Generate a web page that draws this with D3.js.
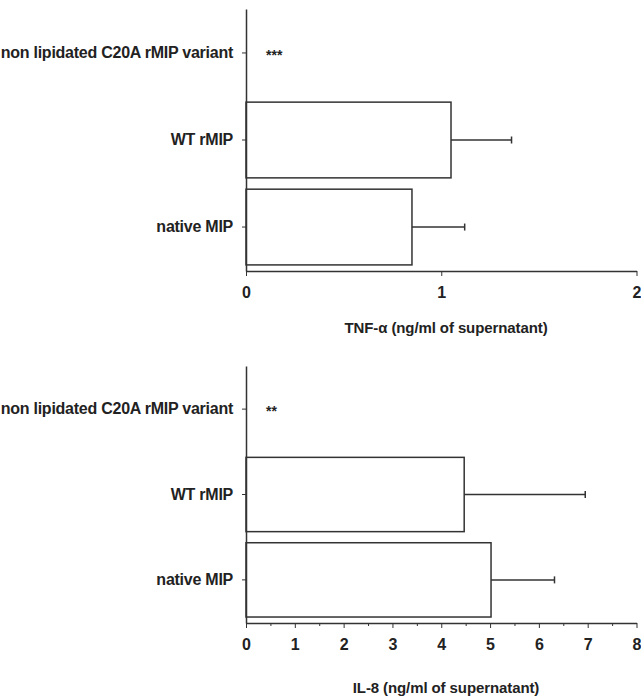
<!DOCTYPE html>
<html>
<head>
<meta charset="utf-8">
<script src="https://cdn.jsdelivr.net/npm/d3@7"></script>
<style>
  body { margin: 0; background: #fff; }
  text { font-family: "Liberation Sans", Arial, sans-serif; fill: #222; }
</style>
</head>
<body>
<div id="chart"></div>
<script>
// groups, bottom to top
var categories = ["native MIP", "WT rMIP", "non lipidated C20A rMIP variant"];

// TNF-alpha panel
var tnfMeans = [0.85, 1.05, 0];
var tnfSD = [0.27, 0.31, 0];
var tnfStars = ["", "", "***"];
var tnfTicks = [0, 1, 2];

// IL-8 panel
var il8Means = [5.02, 4.47, 0];
var il8SD = [1.30, 2.48, 0];
var il8Stars = ["", "", "**"];
var il8Ticks = [0, 1, 2, 3, 4, 5, 6, 7, 8];
var il8Minor = [0.5, 1.5, 2.5, 3.5, 4.5, 5.5, 6.5, 7.5];

var W = 641, H = 699;
var ink = "#333";

var svg = d3.select("#chart").append("svg")
    .attr("width", W)
    .attr("height", H);

function panel(opt) {
    var x = d3.scaleLinear().domain(opt.domain).range([246, 636.5]);
    var y = d3.scaleBand().domain(categories)
        .range([opt.bottom, opt.top])
        .paddingInner(0.13)
        .paddingOuter(0.07);

    var g = svg.append("g");

    var rows = categories.map(function (c, i) {
        return { cat: c, mean: opt.means[i], sd: opt.sd[i], star: opt.stars[i] };
    });

    // bars
    g.selectAll(".bar")
        .data(rows.filter(function (d) { return d.mean > 0; }))
        .enter().append("rect")
        .attr("class", "bar")
        .attr("x", x(0))
        .attr("y", function (d) { return y(d.cat); })
        .attr("width", function (d) { return x(d.mean) - x(0); })
        .attr("height", y.bandwidth())
        .attr("fill", "#fff")
        .attr("stroke", ink)
        .attr("stroke-width", 1.5);

    // error bars (upper side only)
    var eb = g.selectAll(".err")
        .data(rows.filter(function (d) { return d.sd > 0; }))
        .enter().append("g")
        .attr("class", "err");
    eb.append("line")
        .attr("x1", function (d) { return x(d.mean); })
        .attr("x2", function (d) { return x(d.mean + d.sd); })
        .attr("y1", function (d) { return y(d.cat) + y.bandwidth() / 2; })
        .attr("y2", function (d) { return y(d.cat) + y.bandwidth() / 2; })
        .attr("stroke", ink).attr("stroke-width", 1.5);
    eb.append("line")
        .attr("x1", function (d) { return x(d.mean + d.sd); })
        .attr("x2", function (d) { return x(d.mean + d.sd); })
        .attr("y1", function (d) { return y(d.cat) + y.bandwidth() / 2 - 3.5; })
        .attr("y2", function (d) { return y(d.cat) + y.bandwidth() / 2 + 3.5; })
        .attr("stroke", ink).attr("stroke-width", 1.5);

    // significance marks
    g.selectAll(".star")
        .data(rows.filter(function (d) { return d.star; }))
        .enter().append("text")
        .attr("class", "star")
        .attr("x", x(0) + 20)
        .attr("y", function (d) { return y(d.cat) + y.bandwidth() / 2 + 7; })
        .style("font-size", "14px")
        .style("font-weight", "bold")
        .text(function (d) { return d.star; });

    // y axis
    var ya = g.append("g")
        .attr("transform", "translate(246,0)")
        .call(d3.axisLeft(y).tickSize(4).tickSizeOuter(0).tickPadding(9));
    ya.select(".domain").attr("stroke", ink).attr("stroke-width", 1.5);
    ya.selectAll(".tick line").attr("stroke", ink);
    ya.selectAll(".tick text")
        .style("font-size", "16px")
        .style("font-weight", "bold")
        .style("letter-spacing", "-0.25px")
        .attr("fill", "#222");

    // x axis
    var xa = g.append("g")
        .attr("transform", "translate(0," + opt.bottom + ")")
        .call(d3.axisBottom(x).tickValues(opt.ticks).tickFormat(d3.format("d"))
            .tickSize(5).tickSizeOuter(0).tickPadding(11));
    xa.select(".domain").attr("stroke", ink).attr("stroke-width", 1.5);
    xa.selectAll(".tick line").attr("stroke", ink);
    xa.selectAll(".tick text")
        .style("font-size", "16px")
        .style("font-weight", "bold")
        .attr("fill", "#222");
    // last label sits at the window edge
    xa.selectAll(".tick text").filter(function (d) { return d === opt.domain[1]; })
        .attr("text-anchor", "end").attr("x", 4.5);

    if (opt.minor) {
        var xm = g.append("g")
            .attr("transform", "translate(0," + opt.bottom + ")")
            .call(d3.axisBottom(x).tickValues(opt.minor).tickSize(3).tickFormat(""));
        xm.select(".domain").remove();
        xm.selectAll(".tick line").attr("stroke", ink);
    }

    g.append("text")
        .attr("x", 446)
        .attr("y", opt.titleY)
        .attr("text-anchor", "middle")
        .style("font-size", "15px")
        .style("font-weight", "bold")
        .style("letter-spacing", "-0.1px")
        .text(opt.title);
}

panel({
    domain: [0, 2], ticks: tnfTicks, means: tnfMeans, sd: tnfSD, stars: tnfStars,
    top: 9, bottom: 271, titleY: 333, title: "TNF-\u03b1 (ng/ml of supernatant)"
});

panel({
    domain: [0, 8], ticks: il8Ticks, minor: il8Minor, means: il8Means, sd: il8SD, stars: il8Stars,
    top: 366, bottom: 623, titleY: 693, title: "IL-8 (ng/ml of supernatant)"
});
</script>
</body>
</html>
